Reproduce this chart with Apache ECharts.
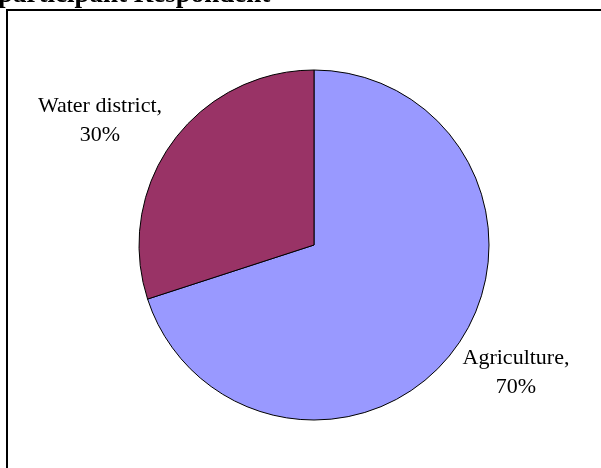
<!DOCTYPE html>
<html>
<head>
<meta charset="utf-8">
<script src="https://cdn.jsdelivr.net/npm/echarts@6/dist/echarts.min.js"></script>
<style>
html,body{margin:0;padding:0;background:#fff;}
#chart{width:601px;height:468px;}
</style>
</head>
<body>
<div id="chart"></div>
<script>
var categories = ['Agriculture', 'Water district'];
var values = [70, 30];
var colors = ['#9999FF', '#993366'];
var titleText = 'participant Respondent';
// label anchor points (layout only)
var labelPos = [[516, 373], [100, 121]];

var chart = echarts.init(document.getElementById('chart'), null, {renderer: 'canvas'});
var option = {
  animation: false,
  backgroundColor: '#ffffff',
  graphic: [
    {
      type: 'rect',
      shape: {x: 7, y: 10, width: 700, height: 600},
      style: {fill: 'none', stroke: '#000', lineWidth: 2},
      z: 0
    },
    {
      type: 'text',
      x: -2, y: -5,
      style: {
        text: titleText,
        font: 'bold 27px "Liberation Serif", "Times New Roman", serif',
        fill: '#000',
        align: 'left',
        verticalAlign: 'middle'
      },
      z: 10
    }
  ],
  series: [{
    type: 'pie',
    center: [314, 245],
    radius: 175,
    startAngle: 90,
    clockwise: true,
    avoidLabelOverlap: false,
    label: {
      show: true,
      position: 'outside',
      alignTo: 'none',
      overflow: 'none',
      width: 200,
      formatter: '{b},\n{d}%',
      fontFamily: '"Liberation Serif", "Times New Roman", serif',
      fontSize: 22,
      lineHeight: 29,
      color: '#000',
      align: 'center'
    },
    labelLine: {show: false},
    labelLayout: function (params) {
      var p = labelPos[params.dataIndex];
      return {x: p[0], y: p[1], align: 'center', verticalAlign: 'middle'};
    },
    itemStyle: {borderColor: '#000', borderWidth: 1},
    emphasis: {disabled: true},
    data: categories.map(function (c, i) {
      return {name: c, value: values[i], itemStyle: {color: colors[i]}};
    })
  }]
};
chart.setOption(option);
</script>
</body>
</html>
